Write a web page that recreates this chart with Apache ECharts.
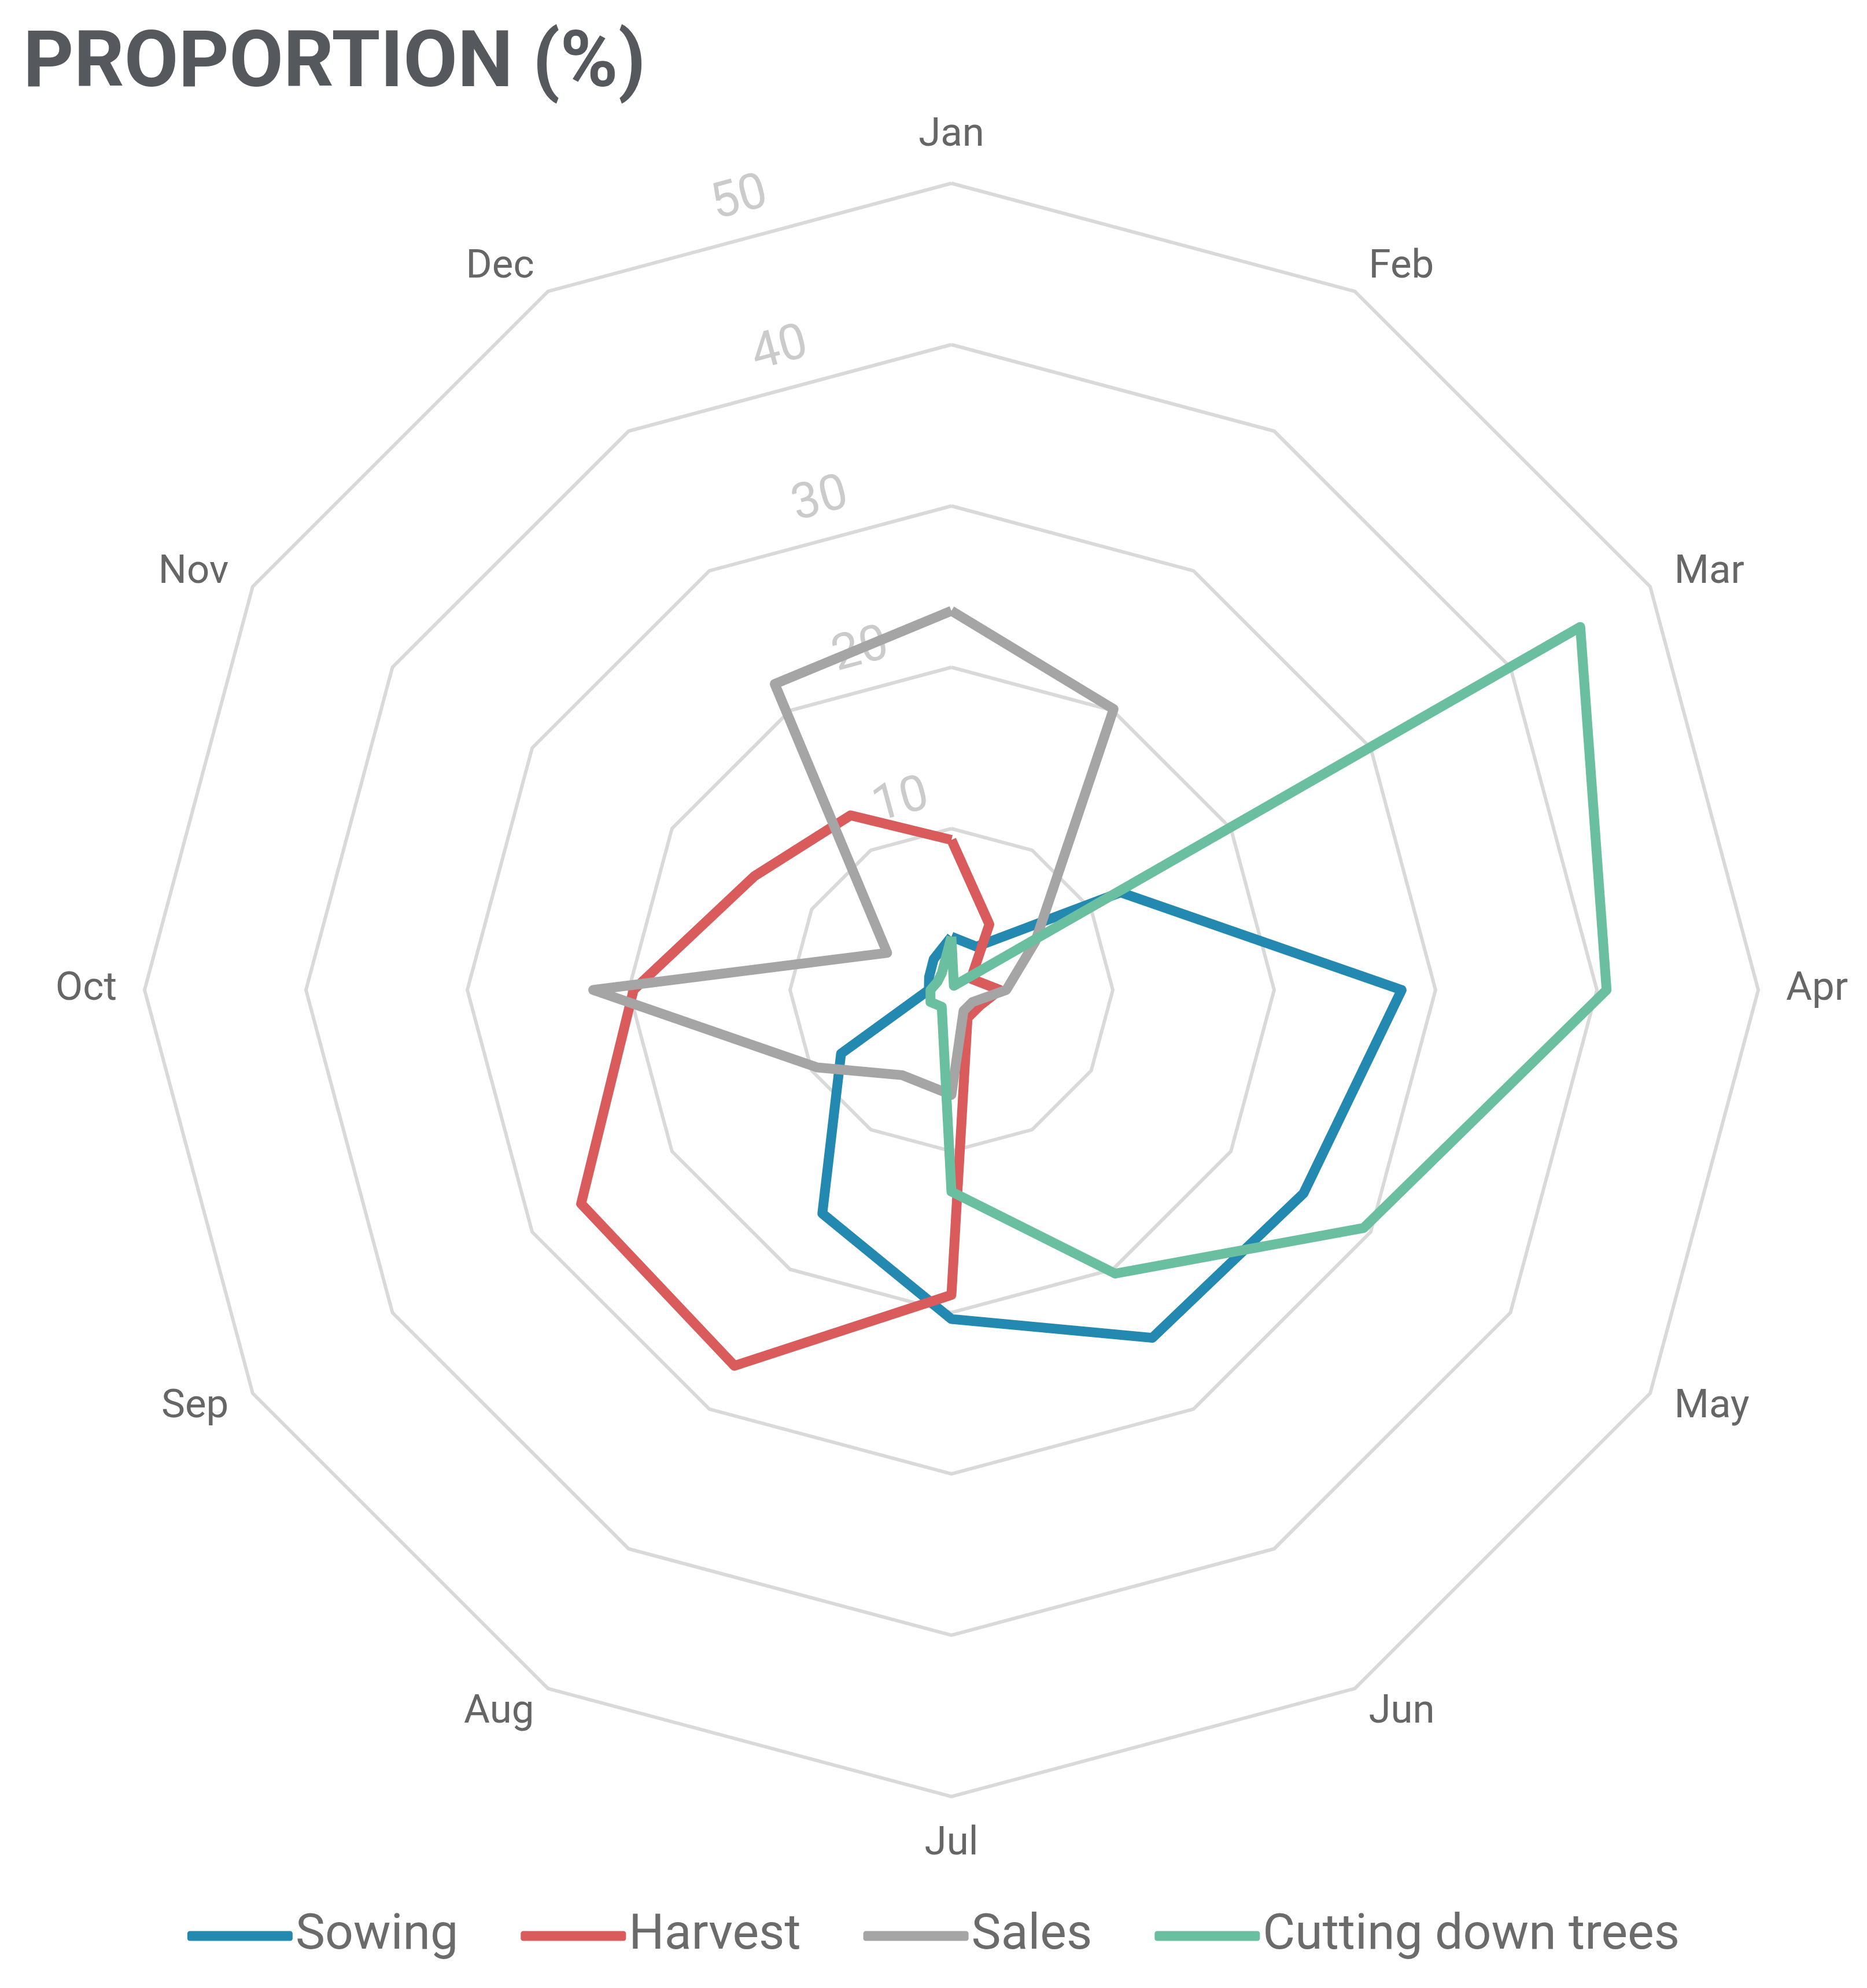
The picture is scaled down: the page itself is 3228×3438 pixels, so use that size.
<!DOCTYPE html>
<html>
<head>
<meta charset="utf-8">
<title>Proportion (%)</title>
<script src="https://cdn.jsdelivr.net/npm/echarts@6/dist/echarts.min.js"></script>
<style>
html, body { margin: 0; padding: 0; background: #fff; }
#chart { width: 3228px; height: 3438px; }
</style>
</head>
<body>
<div id="chart"></div>
<script>
// data (percent per month)
var months = ['Jan', 'Feb', 'Mar', 'Apr', 'May', 'Jun', 'Jul', 'Aug', 'Sep', 'Oct', 'Nov', 'Dec'];
var sowing = [3.3, 3.1, 12.1, 27.9, 25.2, 24.9, 20.4, 16.0, 7.9, 1.4, 1.6, 2.2];
var harvest = [9.3, 4.7, 1.4, 3.0, 2.0, 2.0, 18.9, 26.9, 26.5, 19.7, 14.1, 12.5];
var sales = [23.5, 20.1, 6.0, 3.4, 1.5, 1.5, 6.5, 6.1, 9.6, 22.2, 4.6, 21.9];
var cutting = [3.3, 0.3, 45.0, 40.6, 29.5, 20.3, 12.5, 1.2, 1.5, 1.3, 1.0, 1.2];
var seriesNames = ['Sowing', 'Harvest', 'Sales', 'Cutting down trees'];
var tickValues = [10, 20, 30, 40, 50];

var font = 'Roboto, sans-serif';
var axisMax = tickValues[tickValues.length - 1];
var cx = 1645, cy = 1712, R = 1395;

// echarts lays radar indicators out counter-clockwise,
// so feed them Jan, Dec, Nov ... Feb to get Jan, Feb, Mar clockwise
var order = months.map(function (m, i) { return i === 0 ? 0 : months.length - i; });
function reorder(arr) {
  return order.map(function (i) { return arr[i]; });
}

var chartDom = document.getElementById('chart');
var myChart = echarts.init(chartDom);
var option;

option = {
  animation: false,
  color: ['#2389b0', '#d95b5b', '#a5a5a5', '#69bf9f'],
  title: {
    text: 'PROPORTION (%)',
    left: 35,
    top: 42,
    textStyle: {
      fontSize: 136,
      fontWeight: 'bold',
      color: '#55595d',
      fontFamily: font
    }
  },
  legend: {
    data: seriesNames,
    left: 'center',
    top: 3300,
    icon: 'roundRect',
    itemWidth: 182,
    itemHeight: 17,
    itemGap: 108,
    textStyle: {
      fontSize: 86,
      color: '#6b6b6b',
      fontFamily: font
    }
  },
  radar: [
    {
      center: [cx, cy],
      radius: R,
      startAngle: 90,
      shape: 'polygon',
      splitNumber: tickValues.length,
      indicator: reorder(months).map(function (m) {
        return { name: m, min: 0, max: axisMax };
      }),
      axisName: {
        color: '#666',
        fontSize: 69,
        fontFamily: font
      },
      nameGap: 48,
      axisLine: { show: false },
      axisTick: { show: false },
      splitLine: { lineStyle: { color: '#d9d9d9', width: 6 } },
      splitArea: { show: false }
    },
    {
      // only carries the tick labels, drawn along the Dec-Jan edge middles
      center: [cx, cy],
      radius: R * Math.cos(Math.PI / 12),
      startAngle: 105,
      shape: 'polygon',
      splitNumber: tickValues.length,
      indicator: months.map(function (m, i) {
        var ind = { name: '', min: 0, max: axisMax };
        if (i === 0) {
          ind.axisLabel = {
            show: true,
            rotate: 15,
            margin: 0,
            align: 'center',
            verticalAlign: 'bottom',
            padding: [0, 0, 24, 0],
            color: '#cbcbcb',
            fontSize: 86,
            fontFamily: font,
            formatter: function (v) { return v === 0 ? '' : v; }
          };
        }
        return ind;
      }),
      axisName: { show: false },
      axisLine: { show: false },
      axisTick: { show: false },
      splitLine: { show: false },
      splitArea: { show: false }
    }
  ],
  series: [
    {
      type: 'radar',
      radarIndex: 0,
      symbol: 'none',
      lineStyle: { width: 17, join: 'round' },
      data: [
        { name: seriesNames[0], value: reorder(sowing) },
        { name: seriesNames[1], value: reorder(harvest) },
        { name: seriesNames[2], value: reorder(sales) },
        { name: seriesNames[3], value: reorder(cutting) }
      ]
    }
  ]
};

option && myChart.setOption(option);
</script>
</body>
</html>
